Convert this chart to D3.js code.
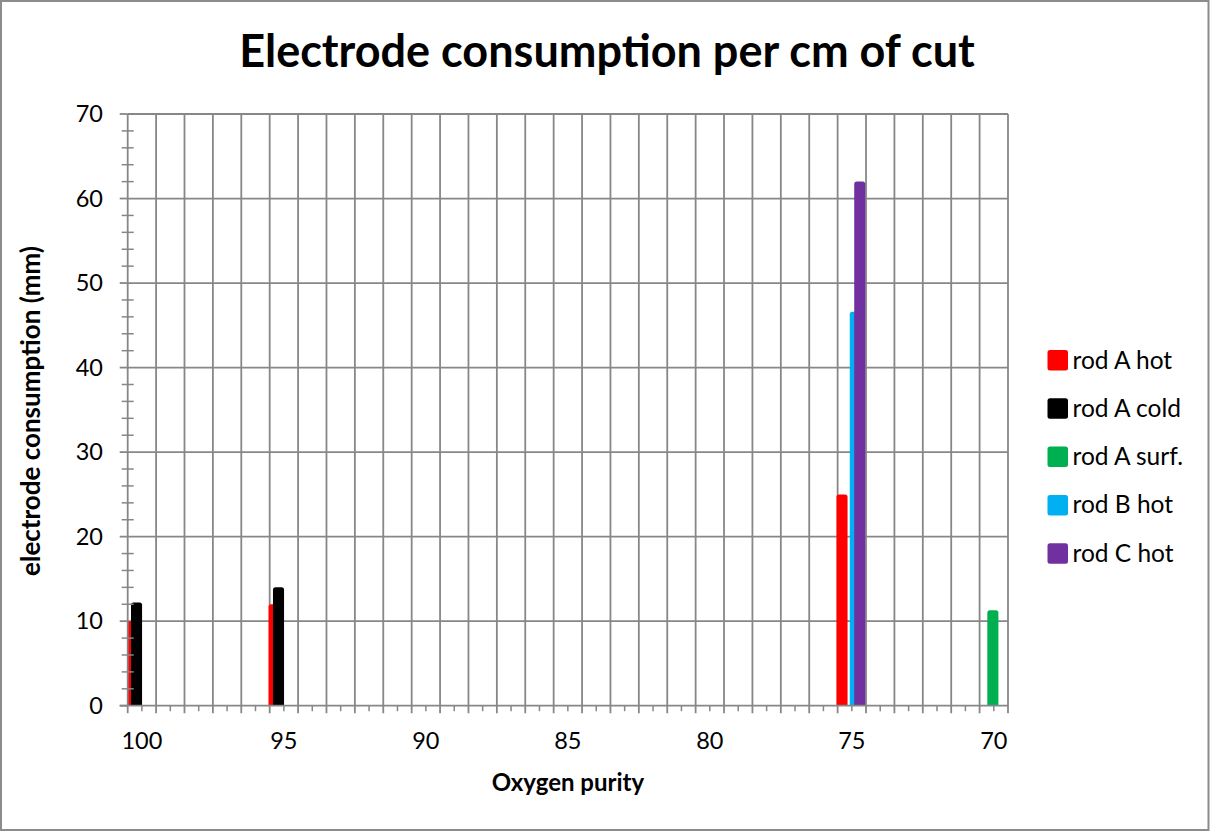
<!DOCTYPE html>
<html>
<head>
<meta charset="utf-8">
<script src="https://cdn.jsdelivr.net/npm/d3@7"></script>
<style>
  html, body { margin: 0; padding: 0; background: #fff; }
  svg { display: block; }
  text { font-family: Lato, "Open Sans", sans-serif; fill: #000; }
</style>
</head>
<body>
<script>
// ---------- data ----------
const purityCategories = d3.range(100, 69, -1);   // 100 … 70 (category slots on the axis)
const xTickLabels = [100, 95, 90, 85, 80, 75, 70];
const yTickLabels = [0, 10, 20, 30, 40, 50, 60, 70];
const seriesNames = ["rod A hot", "rod A cold", "rod A surf.", "rod B hot", "rod C hot"];
const seriesColors = ["#ff0000", "#000000", "#00b050", "#00b0f0", "#7030a0"];
const rodAHot  = [{x: 100, y: 10}, {x: 95, y: 12}, {x: 75, y: 25}];
const rodACold = [{x: 100, y: 12.2}, {x: 95, y: 14}];
const rodASurf = [{x: 70, y: 11.3}];
const rodBHot  = [{x: 75, y: 46.6}];
const rodCHot  = [{x: 75, y: 62}];
const seriesValues = [rodAHot, rodACold, rodASurf, rodBHot, rodCHot];

// ---------- layout ----------
const W = 1210, H = 832;
const plot = {left: 127.7, right: 1008, top: 114, bottom: 705.7};
const gridColor = "#878787";

const svg = d3.select("body").append("svg").attr("width", W).attr("height", H);

// outer border
svg.append("rect").attr("x", 1).attr("y", 1).attr("width", W - 2.5).attr("height", H - 3)
  .attr("fill", "#fff").attr("stroke", "#8c8c8c").attr("stroke-width", 2);

const x = d3.scaleBand().domain(purityCategories).range([plot.left, plot.right]).padding(0);
const y = d3.scaleLinear().domain([0, 70]).range([plot.bottom, plot.top]);
const bw = x.bandwidth();

// title
svg.append("text").attr("x", 607).attr("y", 67).attr("text-anchor", "middle")
  .attr("font-weight", "bold").attr("font-size", 45).text("Electrode consumption per cm of cut");

// horizontal gridlines
svg.append("g").selectAll("line").data(yTickLabels.filter(d => d > 0)).join("line")
  .attr("x1", plot.left).attr("x2", plot.right)
  .attr("y1", d => y(d)).attr("y2", d => y(d))
  .attr("stroke", gridColor).attr("stroke-width", 1.8);

// vertical gridlines at band boundaries
const boundaries = purityCategories.map(c => x(c)).concat([plot.right]);
svg.append("g").selectAll("line").data(boundaries.slice(1)).join("line")
  .attr("x1", d => d).attr("x2", d => d)
  .attr("y1", plot.top).attr("y2", plot.bottom + 7.5)
  .attr("stroke", gridColor).attr("stroke-width", 1.8);

// bars
const barW = bw * 0.39, step = bw * 0.156;
svg.append("clipPath").attr("id", "plotclip").append("rect")
  .attr("x", plot.left).attr("y", 0).attr("width", plot.right - plot.left).attr("height", plot.bottom + 1);
const r = 2.5;
function barPath(x0, w, yTop, yBot) {
  return `M${x0},${yBot}V${yTop + r}Q${x0},${yTop} ${x0 + r},${yTop}H${x0 + w - r}Q${x0 + w},${yTop} ${x0 + w},${yTop + r}V${yBot}Z`;
}
const barsG = svg.append("g").attr("clip-path", "url(#plotclip)");
seriesValues.forEach((vals, i) => {
  barsG.append("g").selectAll("path").data(vals).join("path")
    .attr("d", d => {
      const x0 = x(d.x) + bw / 2 - bw * 0.54 + i * step;
      return barPath(x0, barW, y(d.y), y(0));
    })
    .attr("fill", seriesColors[i]);
});

// axes lines
svg.append("line").attr("x1", plot.left).attr("x2", plot.left).attr("y1", plot.top).attr("y2", plot.bottom)
  .attr("stroke", gridColor).attr("stroke-width", 1.8);
svg.append("line").attr("x1", plot.left - 8).attr("x2", plot.right).attr("y1", plot.bottom).attr("y2", plot.bottom)
  .attr("stroke", gridColor).attr("stroke-width", 1.8);

// y major ticks (outside)
svg.append("g").selectAll("line").data(yTickLabels).join("line")
  .attr("x1", plot.left - 8).attr("x2", plot.left)
  .attr("y1", d => y(d)).attr("y2", d => y(d))
  .attr("stroke", gridColor).attr("stroke-width", 1.8);
// y minor ticks (cross)
const yMinor = d3.range(0, 70, 2).filter(v => v % 10 !== 0);
svg.append("g").selectAll("line").data(yMinor).join("line")
  .attr("x1", plot.left - 6).attr("x2", plot.left + 6)
  .attr("y1", d => y(d)).attr("y2", d => y(d))
  .attr("stroke", gridColor).attr("stroke-width", 1.5);
// x major tick at left boundary
svg.append("line").attr("x1", plot.left).attr("x2", plot.left).attr("y1", plot.bottom).attr("y2", plot.bottom + 7.5)
  .attr("stroke", gridColor).attr("stroke-width", 1.8);
// x minor ticks at band centers
svg.append("g").selectAll("line").data(purityCategories).join("line")
  .attr("x1", d => x(d) + bw / 2).attr("x2", d => x(d) + bw / 2)
  .attr("y1", plot.bottom).attr("y2", plot.bottom + 5.5)
  .attr("stroke", gridColor).attr("stroke-width", 1.5);

// y tick labels
svg.append("g").selectAll("text").data(yTickLabels).join("text")
  .attr("x", 103).attr("y", d => y(d)).attr("dy", "0.35em").attr("text-anchor", "end")
  .attr("font-size", 23.5).text(d => d);

// x tick labels
svg.append("g").selectAll("text").data(xTickLabels).join("text")
  .attr("x", d => x(d) + bw / 2).attr("y", 749).attr("text-anchor", "middle")
  .attr("font-size", 23.5).text(d => d);

// axis titles
svg.append("text").attr("x", 568).attr("y", 791).attr("text-anchor", "middle")
  .attr("font-weight", "bold").attr("font-size", 24).text("Oxygen purity");
svg.append("text").attr("transform", "translate(40,411) rotate(-90)").attr("text-anchor", "middle")
  .attr("font-weight", "bold").attr("font-size", 26).text("electrode consumption (mm)");

// legend
const legend = svg.append("g").selectAll("g").data(seriesNames).join("g")
  .attr("transform", (d, i) => `translate(1047.5,${360 + i * 48.3})`);
legend.append("rect").attr("x", 0).attr("y", -10).attr("width", 20.5).attr("height", 20.5)
  .attr("rx", 2.5).attr("fill", (d, i) => seriesColors[i]);
legend.append("text").attr("x", 25).attr("y", 0).attr("dy", "0.35em")
  .attr("font-size", 24.5).text(d => d);
</script>
</body>
</html>
